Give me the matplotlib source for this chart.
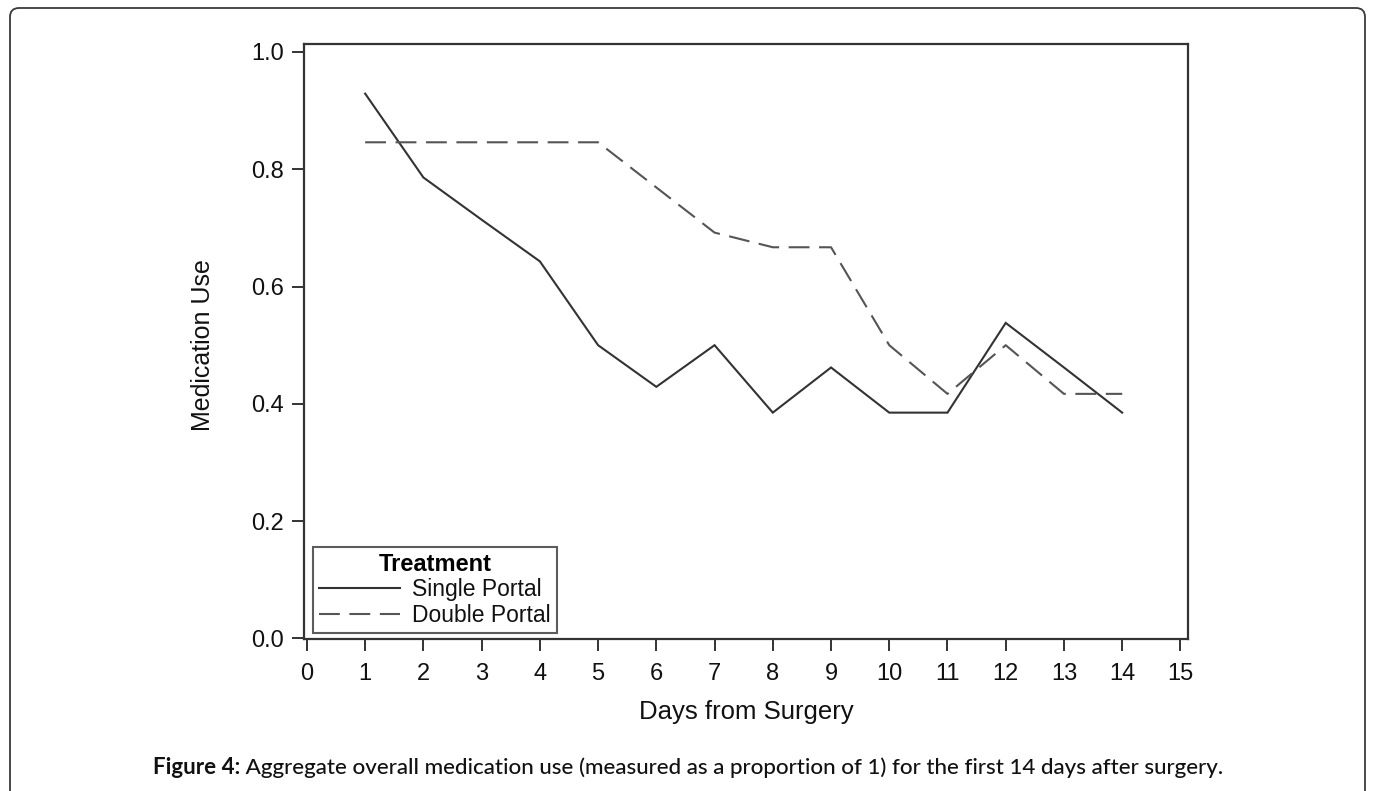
import matplotlib
matplotlib.use("Agg")
import matplotlib.pyplot as plt
from matplotlib.patches import FancyBboxPatch
from matplotlib.transforms import IdentityTransform

# ---- data ----
days = list(range(1, 15))
single_portal = [0.929, 0.786, 0.714, 0.643, 0.500, 0.429, 0.500,
                 0.385, 0.462, 0.385, 0.385, 0.538, 0.462, 0.385]
double_portal = [0.846, 0.846, 0.846, 0.846, 0.846, 0.769, 0.692,
                 0.667, 0.667, 0.500, 0.417, 0.500, 0.417, 0.417]
x_ticks = list(range(0, 16))
y_ticks = [0.0, 0.2, 0.4, 0.6, 0.8, 1.0]
y_tick_labels = ["0.0", "0.2", "0.4", "0.6", "0.8", "1.0"]
series_names = ["Single Portal", "Double Portal"]
legend_title = "Treatment"
x_label = "Days from Surgery"
y_label = "Medication Use"
caption_bold = "Figure 4:"
caption_rest = " Aggregate overall medication use (measured as a proportion of 1) for the first 14 days after surgery."

W, H = 1376, 791
DARK = "#333333"
plt.rcParams["font.family"] = ["Liberation Sans", "DejaVu Sans"]

fig = plt.figure(figsize=(W / 100, H / 100), dpi=100)
fig.patch.set_facecolor("white")

# outer rounded frame (bottom edge cropped, as in the reference)
frame = FancyBboxPatch((10, -20), W - 10 - 11, H - 8 + 20,
                       boxstyle="round,pad=0,rounding_size=9",
                       transform=IdentityTransform(), fill=False,
                       edgecolor="#3a3a3a", linewidth=1.3)
fig.patches.append(frame)

ax_l, ax_r, ax_t, ax_b = 304, 1188, 44, 639
ax = fig.add_axes([ax_l / W, 1 - ax_b / H, (ax_r - ax_l) / W, (ax_b - ax_t) / H])

ax.plot(days, single_portal, color=DARK, linewidth=1.5, linestyle="-",
        label=series_names[0], solid_joinstyle="miter")
(dline,) = ax.plot(days, double_portal, color="#555555", linewidth=1.5,
                   label=series_names[1])
dline.set_dashes((10, 4.6))

ax.set_xlim(-0.05, 15.13)
ax.set_ylim(-0.001, 1.0136)
ax.set_xticks(x_ticks)
ax.set_xticklabels([str(v) for v in x_ticks])
ax.set_yticks(y_ticks)
ax.set_yticklabels(y_tick_labels)

for s in ax.spines.values():
    s.set_color(DARK)
    s.set_linewidth(1.6)

ax.tick_params(axis="both", direction="out", length=8.5, width=1.4,
               color=DARK, labelsize=17, labelcolor="#111111")
ax.tick_params(axis="x", pad=9)
ax.tick_params(axis="y", pad=6)

fig.text(203 / W, 1 - 345 / H, y_label, rotation=90, ha="center", va="center",
         fontsize=18, color="#111111")
fig.text(746 / W, 1 - 712 / H, x_label, ha="center", va="center",
         fontsize=18.5, color="#111111")

leg = ax.legend(loc="lower left", bbox_to_anchor=(0.0102, 0.0101),
                borderaxespad=0, title=legend_title, fontsize=16.5,
                title_fontproperties={"weight": "bold", "size": 17},
                frameon=True, fancybox=False, handlelength=3.5,
                handletextpad=0.55, labelspacing=0.1, borderpad=0.28)
leg.get_frame().set_edgecolor(DARK)
leg.get_frame().set_linewidth(1.5)
for t in leg.get_texts():
    t.set_color("#111111")

# caption: bold label followed by regular text, fitted to reference width
cap_y = 1 - 768 / H
target_left, target_right = 153, 1222
fs = 14.0
cap_family = ["Lato", "DejaVu Sans"]
t1 = fig.text(0, cap_y, caption_bold, fontsize=fs, fontweight="bold",
              family=cap_family, va="center", ha="left", color="#111111")
t2 = fig.text(0, cap_y, caption_rest, fontsize=fs, fontweight="medium",
              family=cap_family, va="center", ha="left", color="#111111")
r = fig.canvas.get_renderer()
for _ in range(3):
    fig.canvas.draw()
    w = t1.get_window_extent(r).width + t2.get_window_extent(r).width
    fs = fs * (target_right - target_left) / w
    t1.set_fontsize(fs)
    t2.set_fontsize(fs)
fig.canvas.draw()
w1 = t1.get_window_extent(r).width
t1.set_x(target_left / W)
t2.set_x((target_left + w1) / W)

fig.savefig("out.png", dpi=100, facecolor="white")
